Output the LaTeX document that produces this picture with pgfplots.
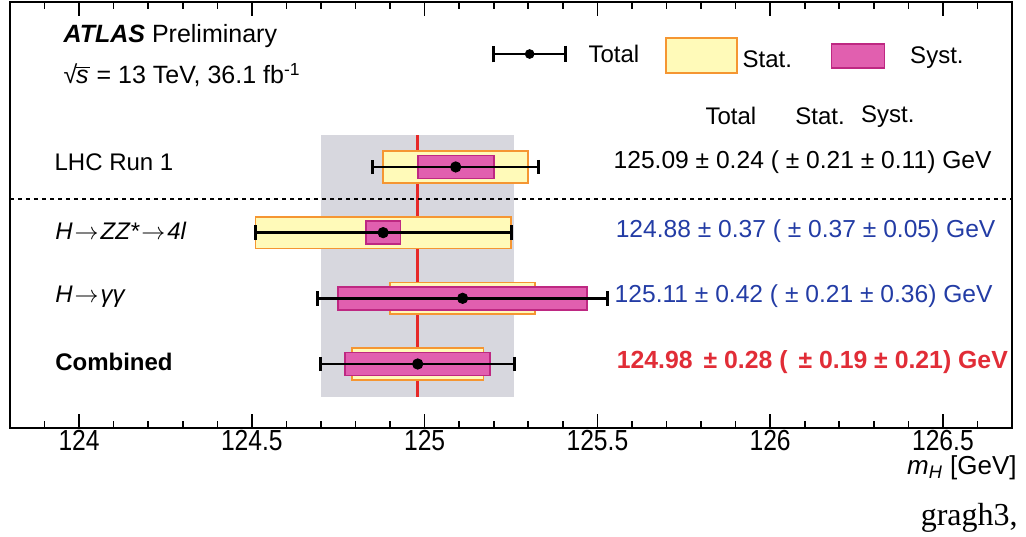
\documentclass[border=0pt]{standalone}
\usepackage{pgfplots}
\pgfplotsset{compat=1.18}
\usepackage{fontspec}
\setmainfont{Liberation Sans}
\newfontfamily\serifcap{Liberation Serif}
\definecolor{yfill}{RGB}{255,250,185}
\definecolor{oline}{RGB}{245,150,50}
\definecolor{pfill}{RGB}{225,95,175}
\definecolor{pline}{RGB}{190,40,130}
\definecolor{band}{RGB}{215,215,222}
\definecolor{rline}{RGB}{230,40,40}
\definecolor{btext}{RGB}{35,60,165}
\definecolor{rtext}{RGB}{225,45,55}
\newcommand{\ar}{\kern1pt$\rightarrow$\kern1pt}
\begin{document}
\begin{tikzpicture}
\begin{axis}[
  name=ax,
  scale only axis, width=501pt, height=213pt,
  xmin=123.8, xmax=126.7, ymin=0.0254, ymax=6.512,
  clip=false,
  axis line style={line width=1pt},
  ytick=\empty,
  xtick pos=both,
  xtick={124,124.5,125,125.5,126,126.5},
  minor x tick num=4,
  tick align=inside,
  major tick length=7pt, minor tick length=3.5pt,
  every tick/.style={black, line width=0.8pt},
  xticklabels={124,124.5,125,125.5,126,126.5},
  xticklabel style={font=\fontsize{14.5}{16}\selectfont, xscale=0.85, inner sep=1pt},
]
% grey band (combined total)
\addplot[fill=band, draw=none] coordinates {(124.70,0.5) (125.26,0.5) (125.26,4.49) (124.70,4.49)} --cycle;
% red line at combined value
\addplot[rline, line width=1.5pt] coordinates {(124.98,0.5) (124.98,4.49)};
% dashed separator
\addplot[black, line width=1.2pt, dash pattern=on 2pt off 2pt] coordinates {(123.8,3.51) (126.7,3.51)};
% stat boxes
\addplot[fill=yfill, draw=oline, line width=0.8pt] coordinates {(124.88,3.76) (125.30,3.76) (125.30,4.24) (124.88,4.24)} --cycle;
\addplot[fill=yfill, draw=oline, line width=0.8pt] coordinates {(124.51,2.76) (125.25,2.76) (125.25,3.24) (124.51,3.24)} --cycle;
\addplot[fill=yfill, draw=oline, line width=0.8pt] coordinates {(124.90,1.76) (125.32,1.76) (125.32,2.24) (124.90,2.24)} --cycle;
\addplot[fill=yfill, draw=oline, line width=0.8pt] coordinates {(124.79,0.76) (125.17,0.76) (125.17,1.24) (124.79,1.24)} --cycle;
% syst boxes
\addplot[fill=pfill, draw=pline, line width=0.8pt] coordinates {(124.98,3.825) (125.20,3.825) (125.20,4.175) (124.98,4.175)} --cycle;
\addplot[fill=pfill, draw=pline, line width=0.8pt] coordinates {(124.83,2.825) (124.93,2.825) (124.93,3.175) (124.83,3.175)} --cycle;
\addplot[fill=pfill, draw=pline, line width=0.8pt] coordinates {(124.75,1.825) (125.47,1.825) (125.47,2.175) (124.75,2.175)} --cycle;
\addplot[fill=pfill, draw=pline, line width=0.8pt] coordinates {(124.77,0.825) (125.19,0.825) (125.19,1.175) (124.77,1.175)} --cycle;
% total error bars
\addplot[black, only marks, mark=*, mark size=2.6pt,
  error bars/.cd, x dir=both, x explicit,
  error bar style={line width=1.4pt},
  error mark options={line width=1.5pt, mark size=3.6pt, rotate=90}]
  coordinates {(125.09,4) +- (0.24,0) (124.88,3) +- (0.37,0) (125.11,2) +- (0.42,0) (124.98,1) +- (0.28,0)};
% tick marks along top and bottom edges (drawn as fixed-length bars)
\addplot[draw=none, mark=none, error bars/.cd, y dir=minus, y fixed=0.213, error mark=none,
  error bar style={black, line width=0.8pt}]
  coordinates {(124,6.512) (124.5,6.512) (125,6.512) (125.5,6.512) (126,6.512) (126.5,6.512)};
\addplot[draw=none, mark=none, error bars/.cd, y dir=minus, y fixed=0.1066, error mark=none,
  error bar style={black, line width=0.8pt}]
  coordinates {(123.9,6.512) (124.1,6.512) (124.2,6.512) (124.3,6.512) (124.4,6.512) (124.6,6.512) (124.7,6.512) (124.8,6.512) (124.9,6.512) (125.1,6.512) (125.2,6.512) (125.3,6.512) (125.4,6.512) (125.6,6.512) (125.7,6.512) (125.8,6.512) (125.9,6.512) (126.1,6.512) (126.2,6.512) (126.3,6.512) (126.4,6.512) (126.6,6.512)};
\addplot[draw=none, mark=none, error bars/.cd, y dir=plus, y fixed=0.213, error mark=none,
  error bar style={black, line width=0.8pt}]
  coordinates {(124,0.0254) (124.5,0.0254) (125,0.0254) (125.5,0.0254) (126,0.0254) (126.5,0.0254)};
\addplot[draw=none, mark=none, error bars/.cd, y dir=plus, y fixed=0.1066, error mark=none,
  error bar style={black, line width=0.8pt}]
  coordinates {(123.9,0.0254) (124.1,0.0254) (124.2,0.0254) (124.3,0.0254) (124.4,0.0254) (124.6,0.0254) (124.7,0.0254) (124.8,0.0254) (124.9,0.0254) (125.1,0.0254) (125.2,0.0254) (125.3,0.0254) (125.4,0.0254) (125.6,0.0254) (125.7,0.0254) (125.8,0.0254) (125.9,0.0254) (126.1,0.0254) (126.2,0.0254) (126.3,0.0254) (126.4,0.0254) (126.6,0.0254)};
% legend: total
\addplot[black, only marks, mark=*, mark size=2.2pt,
  error bars/.cd, x dir=both, x explicit,
  error bar style={line width=1.4pt},
  error mark options={line width=1.5pt, mark size=4.2pt, rotate=90}]
  coordinates {(125.304,5.72) +- (0.104,0)};
\addplot[fill=yfill, draw=oline, line width=0.8pt] coordinates {(125.699,5.431) (125.904,5.431) (125.904,5.964) (125.699,5.964)} --cycle;
\addplot[fill=pfill, draw=pline, line width=0.8pt] coordinates {(126.178,5.507) (126.331,5.507) (126.331,5.873) (126.178,5.873)} --cycle;
\node[anchor=west, font=\fontsize{12}{14}\selectfont] at (axis cs:125.454,5.72) {Total};
\node[anchor=west, font=\fontsize{12}{14}\selectfont] at (axis cs:125.90,5.64) {Stat.};
\node[anchor=west, font=\fontsize{12}{14}\selectfont] at (axis cs:126.385,5.67) {Syst.};
% ATLAS label
\node[anchor=west, font=\fontsize{12.5}{14}\selectfont, inner sep=0pt] at (axis cs:123.954,6.0) {\textbf{\textit{ATLAS}} Preliminary};
\node[anchor=west, font=\fontsize{12.5}{14}\selectfont, inner sep=0pt] at (axis cs:123.954,5.40) {√\kern-0.6pt$\overline{\mbox{\textit{s}\kern0.5pt}}$ = 13 TeV, 36.1 fb\textsuperscript{-1}};
% column headers
\node[anchor=west, font=\fontsize{12}{14}\selectfont, inner sep=0pt] at (axis cs:125.812,4.77) {Total};
\node[anchor=west, font=\fontsize{12}{14}\selectfont, inner sep=0pt] at (axis cs:126.072,4.77) {Stat.};
\node[anchor=west, font=\fontsize{12}{14}\selectfont, inner sep=0pt] at (axis cs:126.262,4.77) {Syst.};
% row labels
\node[anchor=west, font=\fontsize{12}{14}\selectfont, inner sep=0pt] at (axis cs:123.928,4.07) {LHC Run 1};
\node[anchor=west, font=\fontsize{12}{14}\selectfont\itshape, inner sep=0pt] at (axis cs:123.93,3.03) {H\ar ZZ*\ar 4l};
\node[anchor=west, font=\fontsize{12}{14}\selectfont\itshape, inner sep=0pt] at (axis cs:123.93,2.03) {H\ar γγ};
\node[anchor=west, font=\fontsize{12}{14}\selectfont\bfseries, inner sep=0pt] at (axis cs:123.93,1.03) {Combined};
% values
\node[anchor=west, font=\fontsize{12.3}{14}\selectfont, inner sep=0pt] at (axis cs:125.546,4.07) {125.09 ± 0.24 ( ± 0.21 ± 0.11) GeV};
\node[anchor=west, font=\fontsize{12.3}{14}\selectfont, text=btext, inner sep=0pt] at (axis cs:125.552,3.03) {124.88 ± 0.37 ( ± 0.37 ± 0.05) GeV};
\node[anchor=west, font=\fontsize{12.3}{14}\selectfont, text=btext, inner sep=0pt] at (axis cs:125.549,2.03) {125.11 ± 0.42 ( ± 0.21 ± 0.36) GeV};
\node[anchor=west, font=\fontsize{12.4}{14}\selectfont\bfseries, text=rtext, inner sep=0pt] at (axis cs:125.555,1.03) {124.98 \,± 0.28 ( \,± 0.19 ± 0.21) GeV};
\end{axis}
\node[anchor=base east, font=\fontsize{13}{15}\selectfont, inner sep=0pt] at ([shift={(2.5pt,-23pt)}]ax.south east) {\textit{m}\textsubscript{\textit{H}} [GeV]};
\node[anchor=base east, font=\fontsize{16}{18}\serifcap\selectfont, inner sep=0pt] at ([shift={(3pt,-48.5pt)}]ax.south east) {gragh3,};
\path ([shift={(-5pt,-54pt)}]ax.south west) ([shift={(7pt,1pt)}]ax.north east);
\end{tikzpicture}
\end{document}
